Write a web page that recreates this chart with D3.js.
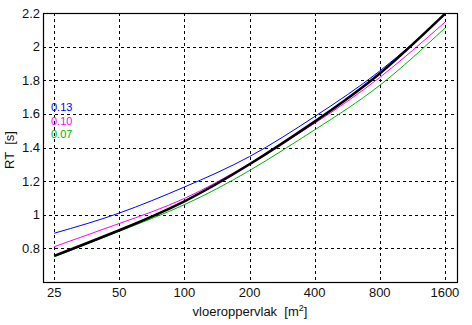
<!DOCTYPE html>
<html lang="en">
<head>
    <meta charset="UTF-8">
    <title>RT vs vloeroppervlak</title>
    <style>
        html, body { margin: 0; padding: 0; background: #fff; }
        svg { display: block; }
        .tick-label { font-family: "Liberation Sans", Arial, sans-serif; font-size: 13px; fill: #111; white-space: pre; }
        .grid line { stroke: #000; stroke-width: 1; stroke-dasharray: 3,3; shape-rendering: crispEdges; }
    </style>
    <script src="https://d3js.org/d3.v7.min.js"></script>
</head>
<body>
    <svg width="472" height="325"></svg>
    <script>
        // data
        var areas = [25, 50, 100, 200, 400, 800, 1600];
        var rtBlack   = [0.755, 0.908, 1.08, 1.30, 1.554, 1.84, 2.195];
        var rtBlue    = [0.89, 1.01, 1.165, 1.346, 1.584, 1.855, 2.19];
        var rtMagenta = [0.81, 0.948, 1.097, 1.305, 1.544, 1.817, 2.145];
        var rtGreen   = [0.75, 0.902, 1.06, 1.263, 1.505, 1.77, 2.11];
        var yTicks = [0.8, 1, 1.2, 1.4, 1.6, 1.8, 2, 2.2];
        var labels = ["0.13", "0.10", "0.07"];

        var svg = d3.select("svg");
        var pL = 43, pR = 457, pT = 13, pB = 282;

        var x = d3.scaleLog().base(2).domain([22.2, 1820]).range([pL, pR]);
        var y = d3.scaleLinear().domain([0.6, 2.2]).range([pB, pT]);

        // grid
        var grid = svg.append("g").attr("class", "grid");
        grid.selectAll(".vx").data(areas).enter().append("line")
            .attr("x1", d => Math.round(x(d)) + 0.5).attr("x2", d => Math.round(x(d)) + 0.5)
            .attr("y1", pT).attr("y2", pB);
        grid.selectAll(".hy").data(yTicks.slice(0, -1)).enter().append("line")
            .attr("x1", pL).attr("x2", pR)
            .attr("y1", d => Math.round(y(d)) + 0.5).attr("y2", d => Math.round(y(d)) + 0.5);

        svg.append("defs").append("clipPath").attr("id", "clip")
            .append("rect").attr("x", pL).attr("y", pT - 2)
            .attr("width", pR - pL).attr("height", pB - pT + 2);

        var line = d3.line()
            .x(d => x(d[0]))
            .y(d => y(d[1]))
            .curve(d3.curveNatural);

        var series = [
            { vals: rtGreen, color: "#00b400", w: 1 },
            { vals: rtMagenta, color: "#ff00ff", w: 1 },
            { vals: rtBlue, color: "#0000ff", w: 1 },
            { vals: rtBlack, color: "#000", w: 2.5 }
        ];

        svg.append("g").attr("clip-path", "url(#clip)")
            .selectAll("path").data(series).enter().append("path")
            .attr("fill", "none")
            .attr("stroke", d => d.color)
            .attr("stroke-width", d => d.w)
            .attr("d", d => line(areas.map((a, i) => [a, d.vals[i]])));

        // axes box
        svg.append("rect")
            .attr("x", pL + 0.5).attr("y", pT + 0.5)
            .attr("width", pR - pL).attr("height", pB - pT)
            .attr("fill", "none").attr("stroke", "#000").attr("stroke-width", 1.2);

        // tick labels
        svg.append("g").selectAll("text").data(areas).enter().append("text")
            .attr("class", "tick-label")
            .attr("x", d => x(d)).attr("y", 297)
            .attr("text-anchor", "middle")
            .text(d => d);

        svg.append("g").selectAll("text").data(yTicks).enter().append("text")
            .attr("class", "tick-label")
            .attr("x", 40).attr("y", d => y(d) + 4.5)
            .attr("text-anchor", "end")
            .text(d => d);

        // axis titles
        var xt = svg.append("text").attr("class", "tick-label")
            .attr("x", 250).attr("y", 316).attr("text-anchor", "middle");
        xt.append("tspan").text("vloeroppervlak  [m");
        xt.append("tspan").attr("dy", -5).attr("font-size", "9px").text("2");
        xt.append("tspan").attr("dy", 5).text("]");

        svg.append("text").attr("class", "tick-label")
            .attr("transform", "translate(14,150) rotate(-90)")
            .attr("text-anchor", "middle")
            .text("RT  [s]");

        // curve labels
        var labelColors = ["#0000ff", "#ff00ff", "#00b400"];
        svg.append("g").selectAll("text").data(labels).enter().append("text")
            .attr("x", 51).attr("y", (d, i) => 111 + i * 13.5)
            .attr("font-family", "Liberation Sans, Arial, sans-serif")
            .attr("font-size", "11px")
            .attr("fill", (d, i) => labelColors[i])
            .text(d => d);
    </script>
</body>
</html>
